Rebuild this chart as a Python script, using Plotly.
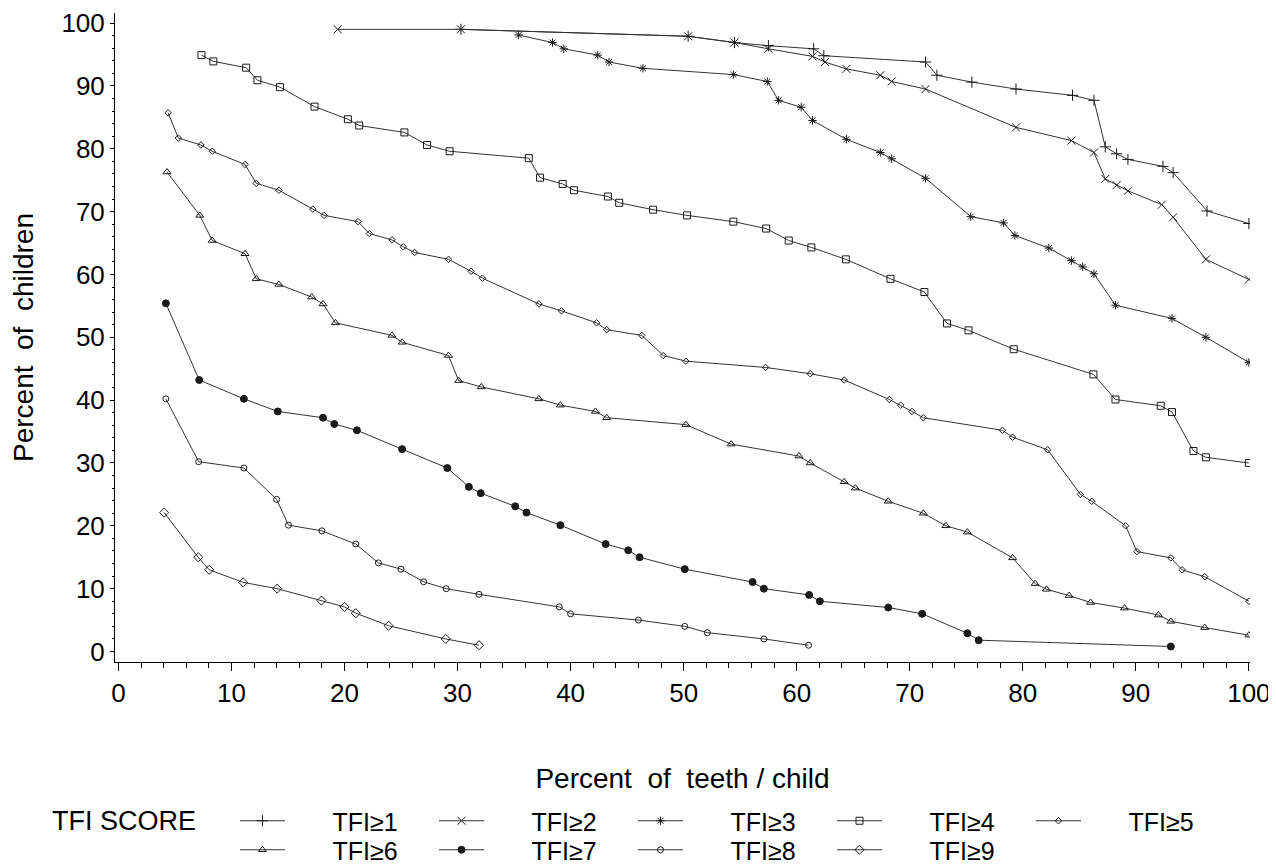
import plotly.graph_objects as go

# ---- data ----
tfi1_x = [30.3, 50.4, 54.5, 57.5, 61.5, 62.4, 71.4, 72.4, 75.5, 79.4, 84.4, 86.3, 87.3, 88.3, 89.3, 92.4, 93.3, 96.3, 100]
tfi1_y = [99.0, 97.9, 96.9, 96.4, 95.9, 94.8, 93.8, 91.7, 90.6, 89.5, 88.5, 87.7, 80.3, 79.2, 78.3, 77.2, 76.2, 70.1, 68.1]

tfi2_x = [19.4, 30.3, 50.4, 54.5, 57.5, 61.4, 62.5, 64.4, 67.4, 68.4, 71.4, 79.4, 84.3, 86.3, 87.3, 88.3, 89.3, 92.3, 93.3, 96.2, 100]
tfi2_y = [99.0, 99.0, 97.9, 96.9, 95.9, 94.7, 93.8, 92.7, 91.7, 90.7, 89.5, 83.4, 81.3, 79.4, 75.2, 74.2, 73.3, 71.1, 69.1, 62.4, 59.2]

tfi3_x = [35.4, 38.4, 39.4, 42.4, 43.4, 46.4, 54.4, 57.4, 58.4, 60.4, 61.4, 64.4, 67.4, 68.4, 71.4, 75.4, 78.3, 79.3, 82.3, 84.3, 85.3, 86.3, 88.2, 93.2, 96.2, 100]
tfi3_y = [98.1, 96.9, 95.9, 94.9, 93.8, 92.8, 91.8, 90.7, 87.7, 86.6, 84.5, 81.5, 79.4, 78.4, 75.3, 69.2, 68.2, 66.2, 64.2, 62.2, 61.2, 60.1, 55.1, 53.0, 50.0, 46.0]

tfi4_x = [7.35, 8.4, 11.3, 12.3, 14.3, 17.35, 20.3, 21.3, 25.3, 27.3, 29.3, 36.3, 37.3, 39.3, 40.3, 43.3, 44.3, 47.3, 50.3, 54.4, 57.3, 59.3, 61.3, 64.35, 68.3, 71.3, 73.3, 75.2, 79.2, 86.25, 88.2, 92.2, 93.2, 95.1, 96.2, 100]
tfi4_y = [94.9, 93.9, 92.9, 90.9, 89.8, 86.7, 84.7, 83.7, 82.6, 80.6, 79.6, 78.5, 75.4, 74.4, 73.4, 72.4, 71.4, 70.3, 69.4, 68.4, 67.3, 65.4, 64.3, 62.4, 59.3, 57.2, 52.2, 51.1, 48.1, 44.1, 40.1, 39.1, 38.1, 31.9, 30.9, 30.0]

tfi5_x = [4.4, 5.3, 7.3, 8.3, 11.2, 12.2, 14.2, 17.2, 18.2, 21.2, 22.2, 24.2, 25.2, 26.2, 29.2, 31.2, 32.2, 37.2, 39.2, 42.3, 43.2, 46.3, 48.2, 50.2, 57.25, 61.2, 64.2, 68.2, 69.2, 70.2, 71.2, 78.2, 79.1, 82.2, 85.1, 86.1, 89.1, 90.1, 93.1, 94.1, 96.1, 100]
tfi5_y = [85.7, 81.7, 80.6, 79.6, 77.5, 74.5, 73.4, 70.4, 69.4, 68.4, 66.5, 65.5, 64.4, 63.5, 62.4, 60.5, 59.4, 55.3, 54.2, 52.3, 51.2, 50.3, 47.1, 46.2, 45.2, 44.2, 43.2, 40.1, 39.2, 38.2, 37.2, 35.2, 34.1, 32.1, 25.0, 23.9, 20.0, 15.9, 14.9, 13.0, 11.9, 8.0]

tfi6_x = [4.3, 7.2, 8.3, 11.2, 12.2, 14.2, 17.1, 18.1, 19.2, 24.2, 25.1, 29.2, 30.1, 32.1, 37.2, 39.1, 42.2, 43.2, 50.2, 54.2, 60.2, 61.2, 64.2, 65.2, 68.1, 71.2, 73.2, 75.1, 79.1, 81.1, 82.1, 84.1, 86.0, 89.0, 92.0, 93.1, 96.1, 100]
tfi6_y = [76.3, 69.4, 65.4, 63.3, 59.3, 58.4, 56.4, 55.3, 52.3, 50.3, 49.2, 47.1, 43.1, 42.1, 40.2, 39.2, 38.2, 37.2, 36.1, 33.0, 31.1, 30.0, 27.0, 26.0, 23.9, 22.0, 20.0, 19.0, 14.9, 10.8, 9.9, 8.9, 7.8, 6.9, 5.8, 4.8, 3.8, 2.6]

tfi7_x = [4.2, 7.15, 11.1, 14.1, 18.1, 19.1, 21.1, 25.1, 29.1, 31.0, 32.05, 35.1, 36.1, 39.1, 43.1, 45.1, 46.1, 50.1, 56.1, 57.1, 61.1, 62.05, 68.1, 71.1, 75.1, 76.1, 93.1]
tfi7_y = [55.4, 43.2, 40.2, 38.2, 37.2, 36.2, 35.2, 32.2, 29.2, 26.2, 25.2, 23.1, 22.1, 20.1, 17.1, 16.1, 15.0, 13.1, 11.05, 10.0, 9.0, 8.0, 7.0, 6.0, 2.9, 1.8, 0.8]

tfi8_x = [4.2, 7.1, 11.1, 14.0, 15.05, 18.0, 21.0, 23.0, 25.0, 27.0, 29.0, 31.9, 39.0, 40.0, 46.0, 50.1, 52.1, 57.1, 61.05]
tfi8_y = [40.2, 30.2, 29.2, 24.2, 20.1, 19.2, 17.1, 14.1, 13.1, 11.1, 10.0, 9.1, 7.1, 6.0, 5.0, 4.0, 3.0, 2.0, 1.0]

tfi9_x = [4.05, 7.06, 8.03, 11.04, 14.04, 17.96, 20.0, 21.0, 23.9, 28.96, 31.9]
tfi9_y = [22.1, 15.0, 13.0, 11.0, 10.0, 8.1, 7.1, 6.1, 4.1, 2.0, 1.0]

series_names = ["TFI\u2265" + str(i) for i in range(1, 10)]
series_x = [tfi1_x, tfi2_x, tfi3_x, tfi4_x, tfi5_x, tfi6_x, tfi7_x, tfi8_x, tfi9_x]
series_y = [tfi1_y, tfi2_y, tfi3_y, tfi4_y, tfi5_y, tfi6_y, tfi7_y, tfi8_y, tfi9_y]
legend_title = "TFI SCORE"

x_ticks = list(range(0, 101, 10))
y_ticks = list(range(0, 101, 10))

# ---- styles ----
symbols = ["cross-thin-open", "x-thin-open", "asterisk-open", "square-open", "diamond-open",
           "triangle-up-open", "circle", "circle-open", "diamond-open"]
sizes = [8, 8, 7, 7, 5, 7, 7, 6, 7]
legend_ref = ["legend"] * 5 + ["legend2"] * 4
INK = "#1a1a1a"
LINE = "#333333"
FONT = "Liberation Sans, Arial, Helvetica, sans-serif"

fig = go.Figure()
pad = "\u2002\u2002\u2002\u2009"
for name, xs, ys, sym, sz, lg in zip(series_names, series_x, series_y, symbols, sizes, legend_ref):
    fig.add_trace(go.Scatter(
        x=xs, y=ys, mode="lines+markers", name=pad + name, legend=lg,
        line=dict(color=LINE, width=1),
        marker=dict(symbol=sym, size=sz, color=INK, line=dict(color=INK, width=1)),
    ))

legend_common = dict(
    orientation="h", xref="container", yref="container",
    x=227 / 1276, xanchor="left", yanchor="middle",
    font=dict(size=25), itemwidth=45, entrywidth=139,
    bgcolor="rgba(0,0,0,0)", borderwidth=0,
)

fig.update_layout(
    width=1276, height=865,
    paper_bgcolor="white", plot_bgcolor="white",
    margin=dict(l=107, r=34, t=5, b=211, autoexpand=False),
    font=dict(family=FONT, size=26, color="black"),
    showlegend=True,
    legend=dict(legend_common, y=1 - 813 / 865),
    legend2=dict(legend_common, y=1 - 842 / 865),
    annotations=[dict(
        text=legend_title, xref="paper", yref="paper",
        x=(42 - 107) / 1135, y=(654 - 813) / 649, xanchor="left", yanchor="middle",
        showarrow=False, font=dict(size=27),
    )],
)

fig.update_xaxes(
    range=[-0.3, 100.1], tickmode="array", tickvals=x_ticks, ticktext=[str(v) for v in x_ticks],
    showline=True, linecolor="black", linewidth=1, mirror=False, automargin=False,
    ticks="outside", ticklen=8, tickcolor="black", tickwidth=1,
    minor=dict(dtick=2, ticks="outside", ticklen=5, tickcolor="black", tickwidth=1, showgrid=False),
    showgrid=False, zeroline=False,
    tickfont=dict(size=26),
    title=dict(text="Percent\u00a0 of\u00a0 teeth / child\u00a0\u00a0\u00a0", font=dict(size=28), standoff=61),
)
fig.update_yaxes(
    range=[-1.67, 101.6], tickmode="array", tickvals=y_ticks, ticktext=[str(v) for v in y_ticks],
    showline=True, linecolor="black", linewidth=1, mirror=False, automargin=False,
    ticks="outside", ticklen=4, tickcolor="black", tickwidth=1,
    minor=dict(dtick=2, ticks="outside", ticklen=2, tickcolor="black", tickwidth=1, showgrid=False),
    showgrid=False, zeroline=False,
    tickfont=dict(size=26),
    title=dict(text="Percent\u00a0 of\u00a0 children", font=dict(size=28), standoff=26),
)

fig.write_html("out.html")
